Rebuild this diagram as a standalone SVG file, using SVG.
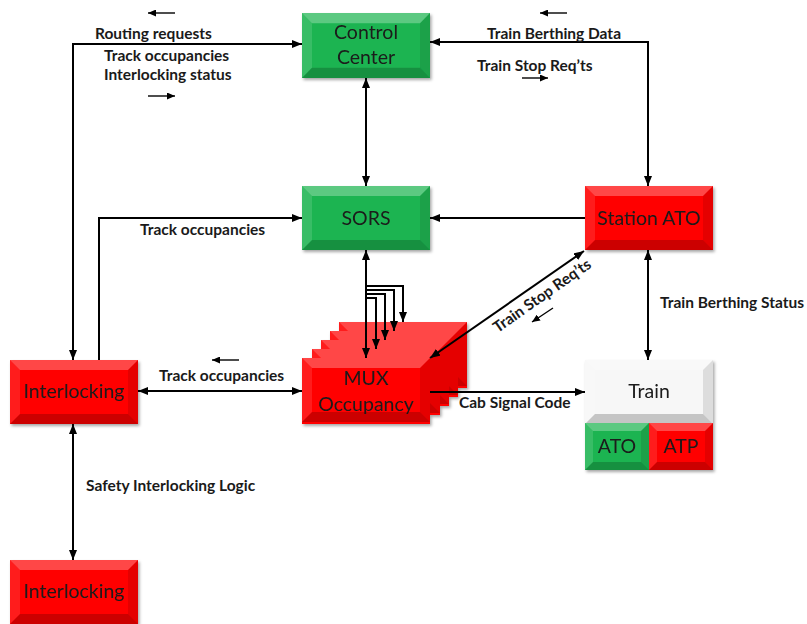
<svg xmlns="http://www.w3.org/2000/svg" width="807" height="624" viewBox="0 0 807 624">
<style>
.node-text{font-family:Lato,"Open Sans","Liberation Sans",sans-serif;font-size:19.5px;fill:#1a1a1a;text-anchor:middle}
.lbl{font-family:Lato,"Open Sans","Liberation Sans",sans-serif;font-size:15.5px;font-weight:bold;fill:#1a1a1a}
.conn{fill:none;stroke:#000;stroke-width:2}
.dir{fill:none;stroke:#000;stroke-width:1.4}
.green{fill:#1db451}
.red{fill:#ff0000}
.white{fill:#f7f7f7}
.hl{fill:#fff;opacity:0.28}
.hl2{fill:#fff;opacity:0.12}
.dk{fill:#000;opacity:0.1}
.dk2{fill:#000;opacity:0.2}
</style>
<defs>
<marker id="arr" markerWidth="10" markerHeight="8" refX="10" refY="4" orient="auto-start-reverse" markerUnits="userSpaceOnUse">
<path d="M0,0 L10,4 L0,8 z" fill="#000"/>
</marker>
<marker id="sarr" markerWidth="8" markerHeight="7" refX="8" refY="3.5" orient="auto" markerUnits="userSpaceOnUse">
<path d="M0,0 L8,3.5 L0,7 z" fill="#000"/>
</marker>
<filter id="sh" x="-10%" y="-10%" width="130%" height="130%">
<feDropShadow dx="1.5" dy="2" stdDeviation="1.5" flood-color="#000" flood-opacity="0.35"/>
</filter>
<g id="bev">
<polygon class="hl" points="0,0 128,0 118,10 10,10"/>
<polygon class="hl2" points="0,0 10,10 10,54 0,64"/>
<polygon class="dk" points="128,0 128,64 118,54 118,10"/>
<polygon class="dk2" points="0,64 10,54 118,54 128,64"/>
</g>
<g id="bevs">
<polygon class="hl" points="0,0 64,0 56,8 8,8"/>
<polygon class="hl2" points="0,0 8,8 8,39 0,47"/>
<polygon class="dk" points="64,0 64,47 56,39 56,8"/>
<polygon class="dk2" points="0,47 8,39 56,39 64,47"/>
</g>
</defs>
<rect width="807" height="624" fill="#fff"/>

<g id="control-center" filter="url(#sh)">
<rect class="green" x="302" y="13" width="128" height="65"/>
<use href="#bev" transform="translate(302,13) scale(1,1.015)"/>
<text class="node-text" x="366" y="39">Control</text>
<text class="node-text" x="366" y="64">Center</text>
</g>

<g id="sors" filter="url(#sh)">
<rect class="green" x="302" y="186" width="128" height="64"/>
<use href="#bev" x="302" y="186"/>
<text class="node-text" x="366" y="225">SORS</text>
</g>

<g id="station-ato" filter="url(#sh)">
<rect class="red" x="585" y="186" width="128" height="64"/>
<use href="#bev" x="585" y="186"/>
<text class="node-text" x="649" y="225">Station ATO</text>
</g>

<g id="interlocking" filter="url(#sh)">
<rect class="red" x="10" y="360" width="128" height="64"/>
<use href="#bev" x="10" y="360"/>
<text class="node-text" x="74" y="398">Interlocking</text>
</g>

<g id="interlocking-2" filter="url(#sh)">
<rect class="red" x="10" y="560" width="128" height="64"/>
<use href="#bev" x="10" y="560"/>
<text class="node-text" x="74" y="598">Interlocking</text>
</g>

<g id="mux-occupancy" filter="url(#sh)">
<rect class="red" x="339" y="322" width="128" height="66"/>
<use href="#bev" x="339" y="322"/>
<rect class="red" x="330" y="331" width="128" height="66"/>
<use href="#bev" x="330" y="331"/>
<rect class="red" x="321" y="340" width="128" height="66"/>
<use href="#bev" x="321" y="340"/>
<rect class="red" x="312" y="349" width="128" height="66"/>
<use href="#bev" x="312" y="349"/>
<rect class="red" x="302" y="358" width="128" height="66"/>
<use href="#bev" x="302" y="358"/>
<text class="node-text" x="366" y="385">MUX</text>
<text class="node-text" x="366" y="411">Occupancy</text>
</g>

<g id="train" filter="url(#sh)">
<rect class="white" x="585" y="360" width="128" height="63"/>
<use href="#bev" x="585" y="360"/>
<text class="node-text" x="649" y="398">Train</text>
<rect class="green" x="585" y="423" width="64" height="47"/>
<use href="#bevs" x="585" y="423"/>
<rect class="red" x="649" y="423" width="64" height="47"/>
<use href="#bevs" x="649" y="423"/>
<text class="node-text" x="617" y="453">ATO</text>
<text class="node-text" x="681" y="453">ATP</text>
</g>

<g id="connectors">
<path class="conn" d="M73,360 V44 H302" marker-start="url(#arr)" marker-end="url(#arr)"/>
<path class="conn" d="M430,42 H648 V186" marker-start="url(#arr)" marker-end="url(#arr)"/>
<path class="conn" d="M366,78 V186" marker-start="url(#arr)" marker-end="url(#arr)"/>
<path class="conn" d="M585,218 H430" marker-end="url(#arr)"/>
<path class="conn" d="M99,360 V218 H302" marker-end="url(#arr)"/>
<path class="conn" d="M366,250 V358" marker-start="url(#arr)" marker-end="url(#arr)"/>
<path class="conn" d="M366,286 H403 V322" marker-end="url(#arr)"/>
<path class="conn" d="M366,290 H394 V331" marker-end="url(#arr)"/>
<path class="conn" d="M366,294 H385 V340" marker-end="url(#arr)"/>
<path class="conn" d="M366,298 H376 V349" marker-end="url(#arr)"/>
<path class="conn" d="M138,391 H302" marker-start="url(#arr)" marker-end="url(#arr)"/>
<path class="conn" d="M430,358 L584,251" marker-start="url(#arr)" marker-end="url(#arr)"/>
<path class="conn" d="M430,392 H585" marker-end="url(#arr)"/>
<path class="conn" d="M648,250 V360" marker-start="url(#arr)" marker-end="url(#arr)"/>
<path class="conn" d="M73,424 V560" marker-start="url(#arr)" marker-end="url(#arr)"/>
<path class="dir" d="M175,13 H148" marker-end="url(#sarr)"/>
<path class="dir" d="M148,96 H175" marker-end="url(#sarr)"/>
<path class="dir" d="M567,13 H540" marker-end="url(#sarr)"/>
<path class="dir" d="M522,78 H548" marker-end="url(#sarr)"/>
<path class="dir" d="M239,360 H212" marker-end="url(#sarr)"/>
<path class="dir" d="M553,308 L532,322" marker-end="url(#sarr)"/>
<text class="lbl" x="95" y="39">Routing requests</text>
<text class="lbl" x="104" y="61">Track occupancies</text>
<text class="lbl" x="104" y="80">Interlocking status</text>
<text class="lbl" x="487" y="39">Train Berthing Data</text>
<text class="lbl" x="477" y="71">Train Stop Req’ts</text>
<text class="lbl" x="140" y="235">Track occupancies</text>
<text class="lbl" x="159" y="381">Track occupancies</text>
<text class="lbl" x="459" y="408">Cab Signal Code</text>
<text class="lbl" x="660" y="308">Train Berthing Status</text>
<text class="lbl" x="86" y="491">Safety Interlocking Logic</text>
<text class="lbl" x="0" y="0" text-anchor="middle" transform="translate(545,300) rotate(-35)">Train Stop Req’ts</text>
</g>
</svg>
